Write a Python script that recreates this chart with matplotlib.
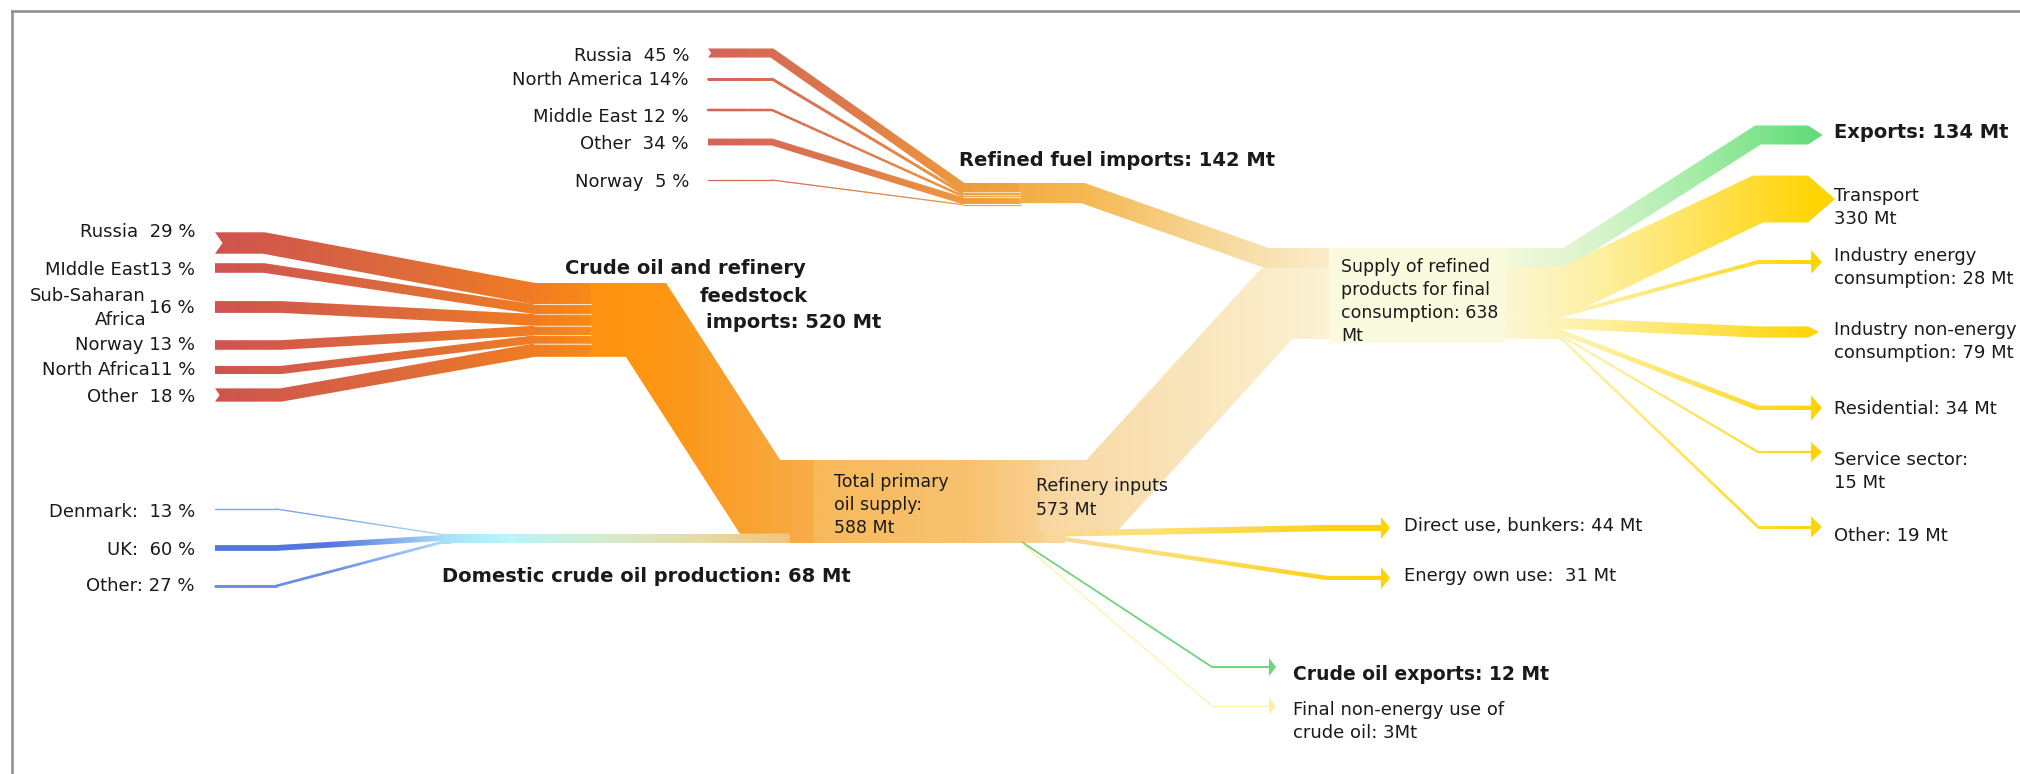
import numpy as np
import matplotlib
matplotlib.use('Agg')
import matplotlib.pyplot as plt
from matplotlib.patches import Polygon, Rectangle
from matplotlib.collections import LineCollection
from matplotlib.colors import to_rgb

# ---- data (Mt and shares in %) ----
crude_labels = ['Russia  29 %', 'MIddle East13 %', '16 %', 'Norway 13 %', 'North Africa11 %', 'Other  18 %']
crude_pct = [29, 13, 16, 13, 11, 18]
crude_total = 520

refined_labels = ['Russia  45 %', 'North America 14%', 'Middle East 12 %', 'Other  34 %', 'Norway  5 %']
refined_pct = [45, 14, 12, 34, 5]
refined_total = 142

domestic_labels = ['Denmark:  13 %', 'UK:  60 %', 'Other: 27 %']
domestic_pct = [13, 60, 27]
domestic_total = 68

primary_total = 588
refinery_input = 573
refinery_use_labels = ['Direct use, bunkers: 44 Mt', 'Energy own use:  31 Mt']
refinery_use_mt = [44, 31]
crude_exports = 12
crude_nonenergy = 3

supply_total = 638
final_labels = [['Exports: 134 Mt'], ['Transport', '330 Mt'], ['Industry energy', 'consumption: 28 Mt'],
                ['Industry non-energy', 'consumption: 79 Mt'], ['Residential: 34 Mt'],
                ['Service sector:', '15 Mt'], ['Other: 19 Mt']]
final_mt = [134, 330, 28, 79, 34, 15, 19]

# ---- layout (pixels) ----
S = 0.142  # px per Mt
TXT = '#1a1a1a'

fig = plt.figure(figsize=(20.2, 7.74), dpi=100)
ax = fig.add_axes([0, 0, 1, 1])
ax.set_xlim(0, 2020)
ax.set_ylim(774, 0)
ax.axis('off')


def ribbon(pts, w, notch=0, tip=0):
    pts = np.asarray(pts, float)
    h = w / 2
    d = np.diff(pts, axis=0)
    d /= np.linalg.norm(d, axis=1)[:, None]
    nv = np.column_stack([-d[:, 1], d[:, 0]])
    left, right = [], []
    for i in range(len(pts)):
        if i == 0:
            m, l = nv[0], h
        elif i == len(pts) - 1:
            m, l = nv[-1], h
        else:
            m = nv[i - 1] + nv[i]
            m /= np.linalg.norm(m)
            l = h / np.dot(m, nv[i])
        left.append(pts[i] + m * l)
        right.append(pts[i] - m * l)
    poly = list(left)
    if tip:
        poly.append(pts[-1] + d[-1] * tip)
    poly += right[::-1]
    if notch:
        poly.append(pts[0] + d[0] * notch)
    return np.array(poly)


def colors_at(xs, stops):
    sx = [s[0] for s in stops]
    cols = np.array([to_rgb(s[1]) for s in stops])
    return np.stack([np.interp(xs, sx, cols[:, k]) for k in range(3)], axis=-1)


def grad_fill(poly, stops, z=2):
    patch = Polygon(poly, closed=True, facecolor='none', edgecolor='none', zorder=z)
    ax.add_patch(patch)
    x0, y0 = poly.min(0)
    x1, y1 = poly.max(0)
    img = colors_at(np.linspace(x0, x1, 300), stops)[None, :, :]
    im = ax.imshow(img, extent=(x0, x1, y1, y0), aspect='auto', interpolation='bilinear', zorder=z)
    im.set_clip_path(patch)


def thin_line(pts, w, stops, z=2):
    # thin flows: gradient drawn as many short segments
    pts = np.asarray(pts, float)
    dense = []
    for a, b in zip(pts[:-1], pts[1:]):
        t = np.linspace(0, 1, 60, endpoint=False)[:, None]
        dense.append(a + (b - a) * t)
    dense.append(pts[-1:])
    dense = np.vstack(dense)
    segs = np.stack([dense[:-1], dense[1:]], axis=1)
    cols = colors_at(segs[:, :, 0].mean(1), stops)
    ax.add_collection(LineCollection(segs, colors=cols, linewidths=max(w, 1.2) * 0.72,
                                     capstyle='round', zorder=z))


def flow(pts, w, stops, z=2, notch=0, tip=0):
    if w < 3.2 and not tip:
        thin_line(pts, w, stops, z)
    else:
        grad_fill(ribbon(pts, w, notch=notch, tip=tip), stops, z)


def head(x, y, color, half=10, length=10, z=3):
    ax.add_patch(Polygon([(x, y - half), (x + length, y), (x, y + half)], closed=True,
                         facecolor=color, edgecolor='none', zorder=z))


def label(x, y, lines, size=13, weight='normal', ha='left', step=23):
    for i, t in enumerate(lines):
        ax.text(x, y + i * step, t, fontsize=size, fontweight=weight, ha=ha, va='center', color=TXT, zorder=10)


# frame
ax.plot([12, 2020], [11, 11], color='#8c8c8c', lw=1.8, zorder=1)
ax.plot([12, 12], [11, 774], color='#8c8c8c', lw=1.8, zorder=1)

# ---- crude imports ----
Wc = crude_total * S
crude_top = 283
crude_y = [243, 268, 307, 345, 370, 395]
crude_stub = [264, 264, 281, 281, 281, 281]
ws = np.array(crude_pct) / 100 * crude_total * S
cs = crude_top + np.cumsum(ws) - ws / 2
for i, (y, sx, w, c) in enumerate(zip(crude_y, crude_stub, ws, cs)):
    flow([(215, y), (sx, y), (534, c), (592, c)], w,
         [(215, '#cf5450'), (400, '#dd6a3c'), (534, '#f07d22'), (592, '#f88a18')],
         notch=w * 0.35 if i in (0, 5) else 0)
for b in crude_top + np.cumsum(ws)[:-1]:
    ax.plot([534, 591], [b, b], color='white', lw=0.8, alpha=0.6, zorder=3)

prim_top = 460
cc = crude_top + Wc / 2
pc = prim_top + Wc / 2
flow([(590, cc), (646, cc), (760, pc), (800, pc)], Wc,
     [(590, '#ff9210'), (666, '#fd9614'), (760, '#f9a436'), (800, '#f8aa42')])
label(565, 268, ['Crude oil and refinery'], size=14, weight='bold')
label(700, 297, ['feedstock'], size=14, weight='bold')
label(706, 323, [f'imports: {crude_total} Mt'], size=14, weight='bold')
for t, y in zip(crude_labels, [232, 270, 308, 345, 370, 397]):
    label(195, y, [t], ha='right')
label(146, 296, ['Sub-Saharan', 'Africa'], ha='right', step=24)

# ---- domestic production ----
Wd = domestic_total * S
dc = prim_top + Wc + Wd / 2
dws = np.array(domestic_pct) / 100 * domestic_total * S
dcs = prim_top + Wc + np.cumsum(dws) - dws / 2
for y, w, c, col in zip([509, 548, 586], dws, dcs, ['#7ea0ee', '#5577dd', '#6a8ee6']):
    flow([(215, y), (276, y), (442, c), (450, c)], w, [(215, col), (330, col), (442, '#a8d8f8')])
flow([(442, dc), (800, dc)], Wd,
     [(442, '#a8e0f8'), (505, '#b8f6fc'), (600, '#d4ecd0'), (700, '#e6dca8'), (800, '#f3c27a')])
for t, y in zip(domestic_labels, [512, 550, 586]):
    label(195, y, [t], ha='right')
label(442, 577, [f'Domestic crude oil production: {domestic_total} Mt'], size=14, weight='bold')

# ---- primary supply / refinery node ----
prim_h = primary_total * S
node = np.array([(790, prim_top), (1065, prim_top), (1065, prim_top + prim_h), (790, prim_top + prim_h)])
grad_fill(node, [(790, '#f8aa42'), (840, '#f8b24e'), (960, '#f8c06a'), (1065, '#f9d59c')], z=2)
ax.add_patch(Rectangle((814, prim_top), 147, prim_h, facecolor='#f8c574', alpha=0.45, edgecolor='none', zorder=3))
label(834, 482, ['Total primary', 'oil supply:', f'{primary_total} Mt'], size=12.5)
label(1036, 486, ['Refinery inputs', f'{refinery_input} Mt'], size=12.5, step=24)

# ---- refined fuel imports ----
Wr = refined_total * S
imp_top = 183
sup_top = 248
rws = np.array(refined_pct) / 100 * refined_total * S
rcs = imp_top + np.cumsum(rws) - rws / 2
for i, (y, w, c) in enumerate(zip([53, 79, 110, 142, 180], rws, rcs)):
    flow([(708, y), (772, y), (963, c), (1021, c)], w,
         [(708, '#d2645a'), (850, '#dd7a4c'), (963, '#ee9a3e'), (1021, '#f2a540')],
         notch=w * 0.35 if i == 0 else 0)
for b in imp_top + np.cumsum(rws)[:-1]:
    ax.plot([963, 1020], [b, b], color='white', lw=0.8, alpha=0.6, zorder=3)
flow([(1019, imp_top + Wr / 2), (1083, imp_top + Wr / 2), (1267, sup_top + Wr / 2), (1345, sup_top + Wr / 2)], Wr,
     [(1019, '#f4ad48'), (1085, '#f5b852'), (1200, '#f7d594'), (1345, '#fbf0d2')])
for t, y in zip(refined_labels, [56, 80, 117, 144, 182]):
    label(689, y, [t], ha='right')
label(959, 160, [f'Refined fuel imports: {refined_total} Mt'], size=14, weight='bold')

# ---- refinery outputs ----
to_supply = refinery_input - sum(refinery_use_mt)
Wt = to_supply * S
rc = sup_top + Wr + Wt / 2
flow([(1040, prim_top + Wt / 2), (1102, prim_top + Wt / 2), (1277, rc), (1345, rc)], Wt,
     [(1040, '#f9d6a0'), (1200, '#fae6bd'), (1345, '#fbf4d6')])

ends = [528, 578]
y0 = prim_top + Wt
for mt, ye, t in zip(refinery_use_mt, ends, refinery_use_labels):
    w = mt * S
    c = y0 + w / 2
    y0 += w
    pts = [(1045, c), (1065, c), (1327, ye), (1382, ye)] if ye > c + 20 else [(1045, c), (1329, ye), (1382, ye)]
    flow(pts, w, [(1045, '#f9d8a0'), (1150, '#fde07a'), (1330, '#ffd21a'), (1390, '#ffd200')], z=2)
    head(1381, ye, '#ffd200', half=11, length=9)
    label(1404, ye - 2, [t])

for mt, ye, col in zip([crude_exports, crude_nonenergy], [667, 706], ['#6fd47a', '#fff0a8']):
    w = mt * S
    c = y0 + w / 2
    y0 += w
    flow([(1022, c), (1212, ye), (1270, ye)], w, [(1000, col), (1300, col)], z=2)
    head(1269, ye, col, half=9, length=7)
label(1293, 675, [f'Crude oil exports: {crude_exports} Mt'], size=13.5, weight='bold')
label(1293, 710, ['Final non-energy use of', f'crude oil: {crude_nonenergy}Mt'], step=23)

# ---- final consumption ----
sup_h = (refined_total + to_supply) * S
fws = np.array(final_mt) * S
fcs = sup_top + np.cumsum(fws) - fws / 2
dest_y = [135, 199, 262, 332, 408, 452, 527]
bend_x = [1566, 1566, 1560, 1565, 1560, 1560, 1560]
label_y = [132, 196, 256, 330, 409, 460, 536]
yellow = [(1495, '#fbf8d8'), (1600, '#fdf0a0'), (1720, '#ffe04a'), (1820, '#ffd400')]
green = [(1495, '#f6f9dc'), (1600, '#d8f4cc'), (1700, '#a2eca4'), (1820, '#5edc78')]
for i, (w, c, yd, bx) in enumerate(zip(fws, fcs, dest_y, bend_x)):
    pts = [(1495, c), (bx, c), (1758, yd), (1808, yd)]
    if w > 8:
        flow(pts, w, green if i == 0 else yellow, tip=6 + 0.45 * w)
    else:
        pts[-1] = (1812, yd)
        flow(pts, w, yellow)
        head(1811, yd, '#ffd400', half=8 + w, length=11)
    label(1834, label_y[i], final_labels[i], weight='bold' if i == 0 else 'normal',
          size=14 if i == 0 else 13, step=23)

ax.add_patch(Rectangle((1329, sup_top), 176, sup_h + 4, facecolor='#fafade', edgecolor='none', zorder=4))
label(1341, 267, ['Supply of refined', 'products for final', f'consumption: {supply_total}', 'Mt'], size=12.5)

fig.savefig('out.png', dpi=100)
